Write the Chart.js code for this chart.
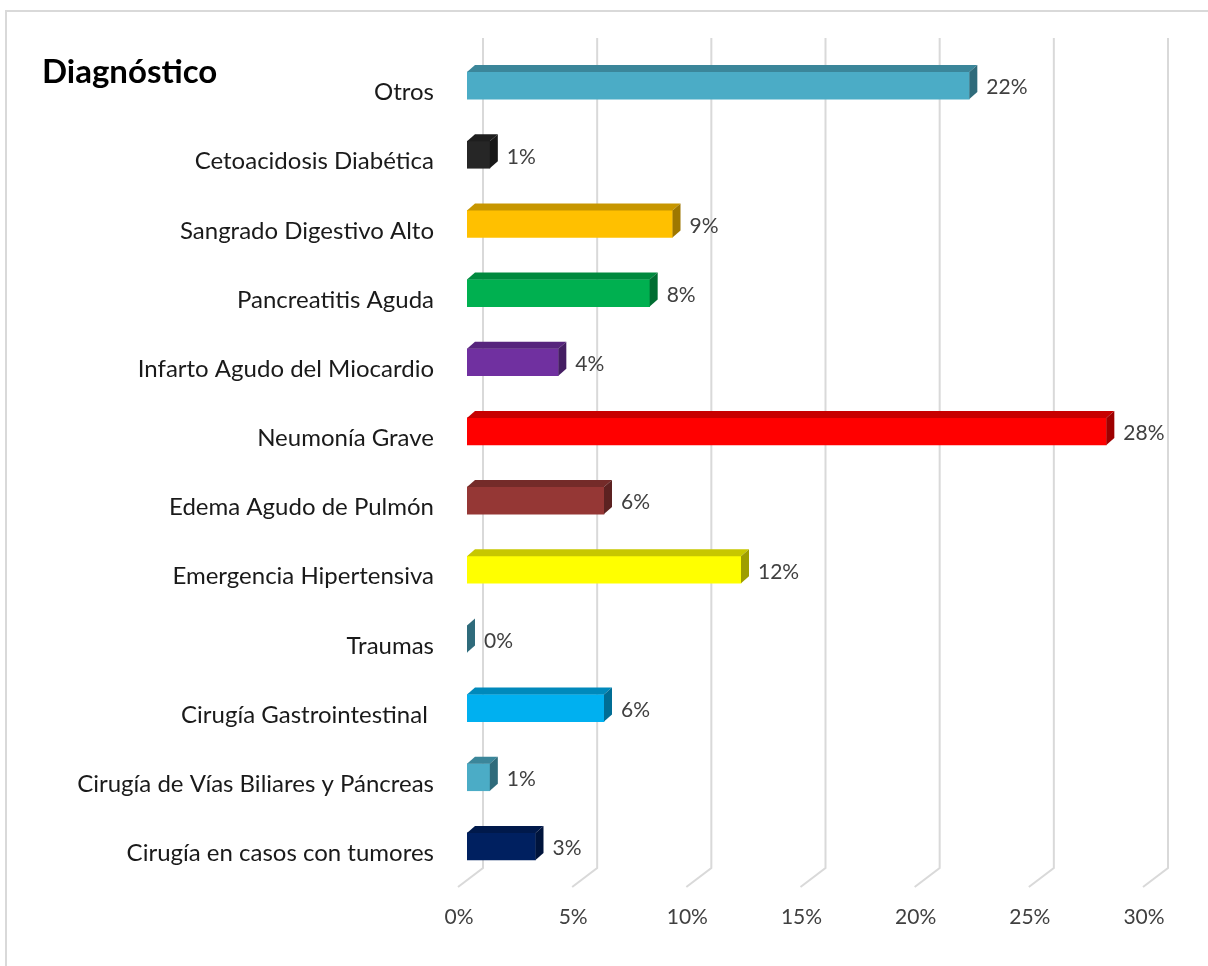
<!DOCTYPE html>
<html>
<head>
<meta charset="utf-8">
<script src="https://cdn.jsdelivr.net/npm/chart.js@4.4.1/dist/chart.umd.min.js"></script>
<style>
  html, body { margin: 0; padding: 0; background: #fff; overflow: hidden; }
  #wrap { position: relative; width: 1208px; height: 966px; }
</style>
</head>
<body>
<div id="wrap"><canvas id="chart"></canvas></div>
<script>
// datos (porcentajes)
const categories = [
  'Otros',
  'Cetoacidosis Diabética',
  'Sangrado Digestivo Alto',
  'Pancreatitis Aguda',
  'Infarto Agudo del Miocardio',
  'Neumonía Grave',
  'Edema Agudo de Pulmón',
  'Emergencia Hipertensiva',
  'Traumas',
  'Cirugía Gastrointestinal ',
  'Cirugía de Vías Biliares y Páncreas',
  'Cirugía en casos con tumores'
];
const values = [22, 1, 9, 8, 4, 28, 6, 12, 0, 6, 1, 3];
const xTicks = [0, 5, 10, 15, 20, 25, 30];

const barColors = [
  '#4BACC6', '#262626', '#FFC000', '#00B050', '#7030A0', '#FF0000',
  '#953735', '#FFFF00', '#4BACC6', '#00B0F0', '#4BACC6', '#002060'
];

const FONT = 'Lato, "Open Sans", sans-serif';
const DX = 8, DY = 7;        // profundidad de las barras 3D
const BACK = 16;             // desplazamiento de la pared del fondo

function shade(hex, f) {
  const n = parseInt(hex.slice(1), 16);
  const r = Math.round(((n >> 16) & 255) * f);
  const g = Math.round(((n >> 8) & 255) * f);
  const b = Math.round((n & 255) * f);
  return `rgb(${r},${g},${b})`;
}

const framePlugin = {
  id: 'frame',
  beforeDraw(chart) {
    const ctx = chart.ctx;
    ctx.save();
    ctx.fillStyle = '#fff';
    ctx.fillRect(0, 0, chart.width, chart.height);
    ctx.strokeStyle = '#d9d9d9';
    ctx.lineWidth = 2;
    ctx.strokeRect(6, 11, chart.width + 20, chart.height + 20);
    // titulo
    ctx.fillStyle = '#000';
    ctx.font = 'bold 33px ' + FONT;
    ctx.textBaseline = 'alphabetic';
    ctx.fillText('Diagnóstico', 42, 83);
    ctx.restore();
  }
};

const wallPlugin = {
  id: 'wall',
  beforeDatasetsDraw(chart) {
    const ctx = chart.ctx, xs = chart.scales.x, area = chart.chartArea;
    ctx.save();
    ctx.strokeStyle = '#d9d9d9';
    ctx.lineWidth = 2;
    xTicks.forEach(v => {
      const xb = xs.getPixelForValue(v) + BACK;
      ctx.beginPath();
      ctx.moveTo(xb, area.top - 13);
      ctx.lineTo(xb, area.bottom - 13);
      ctx.lineTo(xb - 25, area.bottom + 6);
      ctx.stroke();
    });
    ctx.restore();
  }
};

const bar3dPlugin = {
  id: 'bar3d',
  afterDatasetsDraw(chart) {
    const ctx = chart.ctx;
    const meta = chart.getDatasetMeta(0);
    ctx.save();
    meta.data.forEach((el, i) => {
      const p = el.getProps(['x', 'y', 'base', 'height'], true);
      const top = p.y - p.height / 2, bottom = p.y + p.height / 2;
      const c = barColors[i];
      // cara superior
      if (p.x > p.base) {
        ctx.fillStyle = shade(c, 0.78);
        ctx.beginPath();
        ctx.moveTo(p.base, top);
        ctx.lineTo(p.x, top);
        ctx.lineTo(p.x + DX, top - DY);
        ctx.lineTo(p.base + DX, top - DY);
        ctx.closePath();
        ctx.fill();
      }
      // cara lateral
      ctx.fillStyle = shade(c, 0.62);
      ctx.beginPath();
      ctx.moveTo(p.x, top);
      ctx.lineTo(p.x + DX, top - DY);
      ctx.lineTo(p.x + DX, bottom - DY);
      ctx.lineTo(p.x, bottom);
      ctx.closePath();
      ctx.fill();

      // etiqueta de valor
      ctx.fillStyle = '#404040';
      ctx.font = '21px ' + FONT;
      ctx.textAlign = 'left';
      ctx.textBaseline = 'middle';
      ctx.fillText(values[i] + '%', p.x + 17, p.y + 2);
    });
    ctx.restore();
  }
};

new Chart(document.getElementById('chart'), {
  type: 'bar',
  data: {
    labels: categories,
    datasets: [{
      data: values,
      backgroundColor: barColors,
      borderWidth: 0,
      barThickness: 27
    }]
  },
  options: {
    indexAxis: 'y',
    responsive: true,
    maintainAspectRatio: false,
    animation: false,
    devicePixelRatio: 1,
    layout: { padding: { left: 0, top: 51, right: 56, bottom: 0 } },
    plugins: {
      legend: { display: false },
      tooltip: { enabled: false }
    },
    scales: {
      x: {
        min: 0,
        max: 30,
        afterBuildTicks: s => { s.ticks = xTicks.map(v => ({ value: v })); },
        afterFit: s => { s.height = 85; },
        grid: { display: false, drawTicks: false },
        border: { display: false },
        ticks: {
          callback: v => v + '%',
          color: '#404040',
          font: { family: FONT, size: 21 },
          padding: 24,
          labelOffset: -8
        }
      },
      y: {
        afterFit: s => { s.width = 467; },
        grid: { display: false, drawTicks: false },
        border: { display: false },
        ticks: {
          color: '#1a1a1a',
          font: { family: FONT, size: 24 },
          padding: 33,
          labelOffset: 7
        }
      }
    }
  },
  plugins: [framePlugin, wallPlugin, bar3dPlugin]
});
</script>
</body>
</html>
